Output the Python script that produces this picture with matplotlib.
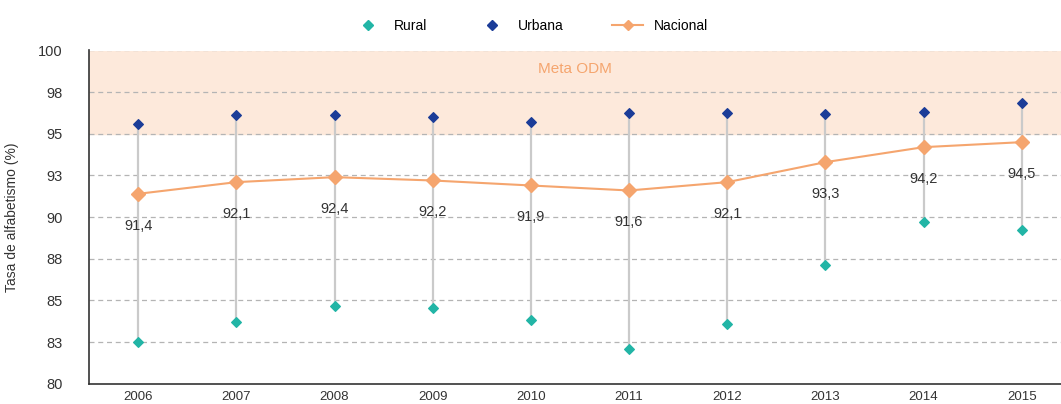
import matplotlib

matplotlib.use("Agg")
import matplotlib.pyplot as plt
from matplotlib.lines import Line2D

years = [2006, 2007, 2008, 2009, 2010, 2011, 2012, 2013, 2014, 2015]
rural = [82.5, 83.7, 84.65, 84.55, 83.8, 82.1, 83.6, 87.1, 89.7, 89.2]
urbana = [95.6, 96.1, 96.1, 96.0, 95.7, 96.25, 96.25, 96.2, 96.3, 96.85]
nacional = [91.4, 92.1, 92.4, 92.2, 91.9, 91.6, 92.1, 93.3, 94.2, 94.5]
nacional_labels = ["91,4", "92,1", "92,4", "92,2", "91,9", "91,6", "92,1", "93,3", "94,2", "94,5"]
yticks = [80, 82.5, 85, 87.5, 90, 92.5, 95, 97.5, 100]
ytick_labels = ["80", "83", "85", "88", "90", "93", "95", "98", "100"]

C_RURAL = "#22B5A6"
C_URB = "#1B3C98"
C_NAC = "#F5A56E"
C_TXT = "#333333"

plt.rcParams["font.family"] = ["Liberation Sans", "DejaVu Sans"]

fig = plt.figure(figsize=(10.61, 4.04), dpi=100)
ax = fig.add_axes([0.084, 0.05, 0.916, 0.825])

ax.axhspan(95, 100, color="#FDE9DB", zorder=0)
for y in yticks[1:]:
    ax.axhline(y, color="#B4B4B4", lw=0.9, ls=(0, (4, 3)), zorder=1)

ax.vlines(years, rural, urbana, color="#CACACA", lw=1.6, zorder=2)
ax.plot(years, nacional, color=C_NAC, lw=1.5, marker="D", ms=7, zorder=3)
ax.scatter(years, urbana, marker="D", s=24, color=C_URB, zorder=4)
ax.scatter(years, rural, marker="D", s=24, color=C_RURAL, zorder=4)

for x, y, lab in zip(years, nacional, nacional_labels):
    ax.annotate(lab, (x, y), xytext=(0, -23), textcoords="offset points",
                ha="center", va="center", fontsize=10.5, color=C_TXT, zorder=5)

ax.text(0.5, 0.945, "Meta ODM", transform=ax.transAxes, ha="center", va="center",
        fontsize=11, color=C_NAC)

ax.set_xlim(2005.5, 2015.4)
ax.set_ylim(80, 100)
ax.set_xticks(years)
ax.set_xticklabels([str(y) for y in years], fontsize=9.5, color=C_TXT)
ax.set_yticks(yticks)
ax.set_yticklabels(ytick_labels, fontsize=10.5, color=C_TXT)
ax.tick_params(axis="x", length=0, pad=5)
ax.tick_params(axis="y", length=0, pad=19)
ax.set_ylabel("Tasa de alfabetismo (%)", fontsize=10, color=C_TXT, labelpad=14)

for s in ["top", "right"]:
    ax.spines[s].set_visible(False)
for s in ["left", "bottom"]:
    ax.spines[s].set_color("#333333")
    ax.spines[s].set_linewidth(1.2)

handles = [
    Line2D([], [], ls="none", marker="D", ms=5, color=C_RURAL),
    Line2D([], [], ls="none", marker="D", ms=5, color=C_URB),
    Line2D([], [], color=C_NAC, lw=1.5, marker="D", ms=5),
]
fig.legend(handles, ["Rural", "Urbana", "Nacional"], loc="center",
           bbox_to_anchor=(0.5, 0.935), ncol=3, frameon=False, fontsize=10,
           columnspacing=3.5, handlelength=2.2)

fig.savefig("out.png", dpi=100)
